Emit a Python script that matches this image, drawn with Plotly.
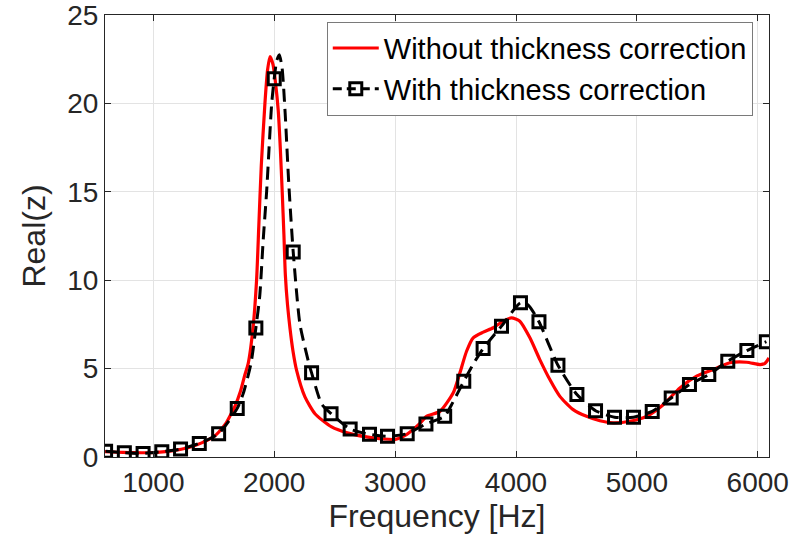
import plotly.graph_objects as go

# Red curve: without thickness correction (dense trace)
f_red = [600, 700, 800, 900, 1000, 1100, 1200, 1300, 1400, 1500, 1540, 1600, 1640, 1675,
         1720, 1755, 1785, 1826, 1854, 1872, 1893, 1923, 1945, 1965, 1990, 2010, 2033,
         2050, 2066, 2080, 2092, 2110, 2130, 2155, 2185, 2254, 2337, 2475, 2612, 2750,
         2900, 3000, 3100, 3205, 3260, 3371, 3481, 3536, 3591, 3646, 3729, 3812, 3894,
         3963, 4032, 4115, 4197, 4280, 4363, 4473, 4584, 4694, 4804, 4942, 5080, 5218,
         5356, 5494, 5632, 5770, 5908, 6019, 6060, 6093]
z_red = [0.30, 0.27, 0.25, 0.24, 0.25, 0.30, 0.40, 0.55, 0.80, 1.15, 1.40, 1.90, 2.40, 2.87,
         3.70, 4.60, 5.30, 7.40, 10.0, 13.0, 16.5, 20.0, 21.9, 22.65, 22.2, 21.2, 19.6,
         17.5, 15.0, 12.6, 10.3, 8.6, 7.3, 6.0, 4.9, 3.4, 2.45, 1.70, 1.35, 1.15,
         1.02, 1.00, 1.30, 1.90, 2.30, 2.58, 3.63, 4.76, 5.98, 6.74, 7.06, 7.31, 7.68,
         7.87, 7.68, 6.74, 5.51, 4.38, 3.43, 2.68, 2.30, 2.05, 1.93, 2.02, 2.30, 2.96,
         3.91, 4.57, 4.95, 5.33, 5.36, 5.23, 5.30, 5.60]

# Black dashed curve: with thickness correction (dense trace)
f_blk = [605, 760, 915, 1070, 1225, 1380, 1540, 1694, 1744, 1808, 1848, 1880, 1909, 1937,
         1979, 2000, 2020, 2042, 2065, 2090, 2120, 2157, 2213, 2290, 2309, 2392, 2470,
         2628, 2788, 2937, 3100, 3255, 3410, 3467, 3568, 3650, 3728, 3880, 4037, 4100,
         4190, 4347, 4504, 4658, 4815, 4972, 5127, 5284, 5435, 5595, 5752, 5910, 6071]
z_blk = [0.32, 0.24, 0.20, 0.30, 0.45, 0.77, 1.32, 2.75, 3.60, 5.30, 7.30, 9.10, 12.3, 15.0,
         20.0, 21.4, 22.4, 22.75, 22.0, 19.5, 15.5, 11.6, 7.5, 5.2, 4.76, 3.0, 2.45,
         1.58, 1.28, 1.17, 1.32, 1.87, 2.30, 2.96, 4.28, 5.30, 6.13, 7.40, 8.72, 8.60,
         7.65, 5.19, 3.53, 2.62, 2.25, 2.25, 2.58, 3.34, 4.10, 4.66, 5.42, 6.02, 6.52]

# Square markers on the black curve
f_mk = [605, 760, 915, 1070, 1225, 1380, 1540, 1694, 1848, 2000, 2157, 2309, 2470, 2628,
        2788, 2937, 3100, 3255, 3410, 3568, 3728, 3880, 4037, 4190, 4347, 4504, 4658,
        4815, 4972, 5127, 5284, 5435, 5595, 5752, 5910, 6071]
z_mk = [0.32, 0.24, 0.20, 0.30, 0.45, 0.77, 1.32, 2.75, 7.30, 21.4, 11.6, 4.76, 2.45, 1.58,
        1.28, 1.17, 1.32, 1.87, 2.30, 4.28, 6.13, 7.40, 8.72, 7.65, 5.19, 3.53, 2.62,
        2.25, 2.25, 2.58, 3.34, 4.10, 4.66, 5.42, 6.02, 6.52]

x_ticks = [1000, 2000, 3000, 4000, 5000, 6000]
y_ticks = [0, 5, 10, 15, 20, 25]

FONT = "Liberation Sans, Arial, sans-serif"
TXT = "#262626"
DASH = "13px,7px"

fig = go.Figure()
fig.add_trace(go.Scatter(x=f_red, y=z_red, mode="lines", name="Without thickness correction",
                         line=dict(color="#ff0000", width=3.2, shape="spline", smoothing=0.6)))
fig.add_trace(go.Scatter(x=f_blk, y=z_blk, mode="lines", showlegend=False,
                         line=dict(color="black", width=3, dash=DASH, shape="spline", smoothing=0.6)))
fig.add_trace(go.Scatter(x=f_mk, y=z_mk, mode="markers", showlegend=False,
                         marker=dict(symbol="square-open", size=12, color="black",
                                     line=dict(width=3, color="black"))))
fig.add_trace(go.Scatter(x=[None], y=[None], mode="lines+markers", name="With thickness correction",
                         line=dict(color="black", width=3, dash="9px,5px"),
                         marker=dict(symbol="square-open", size=12, color="black",
                                     line=dict(width=3, color="black"))))

axis_common = dict(showline=True, linecolor=TXT, linewidth=1, mirror="ticks",
                   ticks="inside", ticklen=6, tickwidth=1, tickcolor=TXT,
                   showgrid=True, gridcolor="#e3e3e3", gridwidth=1, zeroline=False,
                   automargin=False, ticklabeloverflow="allow",
                   tickfont=dict(family=FONT, size=28, color=TXT))

fig.update_xaxes(range=[600, 6093], tickvals=x_ticks, ticktext=[str(v) for v in x_ticks],
                 title=dict(text="Frequency [Hz]", font=dict(family=FONT, size=32, color=TXT),
                            standoff=8),
                 **axis_common)
fig.update_yaxes(range=[0, 25], tickvals=y_ticks, ticktext=[str(v) for v in y_ticks],
                 title=dict(text="Real(z)", font=dict(family=FONT, size=32, color=TXT),
                            standoff=12),
                 **axis_common)

fig.update_layout(
    width=792, height=541,
    margin=dict(l=105, r=23, t=15, b=84, pad=0),
    paper_bgcolor="white", plot_bgcolor="white",
    showlegend=True,
    legend=dict(x=0.334, y=0.985, xanchor="left", yanchor="top",
                bgcolor="white", bordercolor="#7a7a7a", borderwidth=1,
                font=dict(family=FONT, size=29, color="black"),
                itemwidth=46, tracegroupgap=0),
)

fig.write_html("out.html")
